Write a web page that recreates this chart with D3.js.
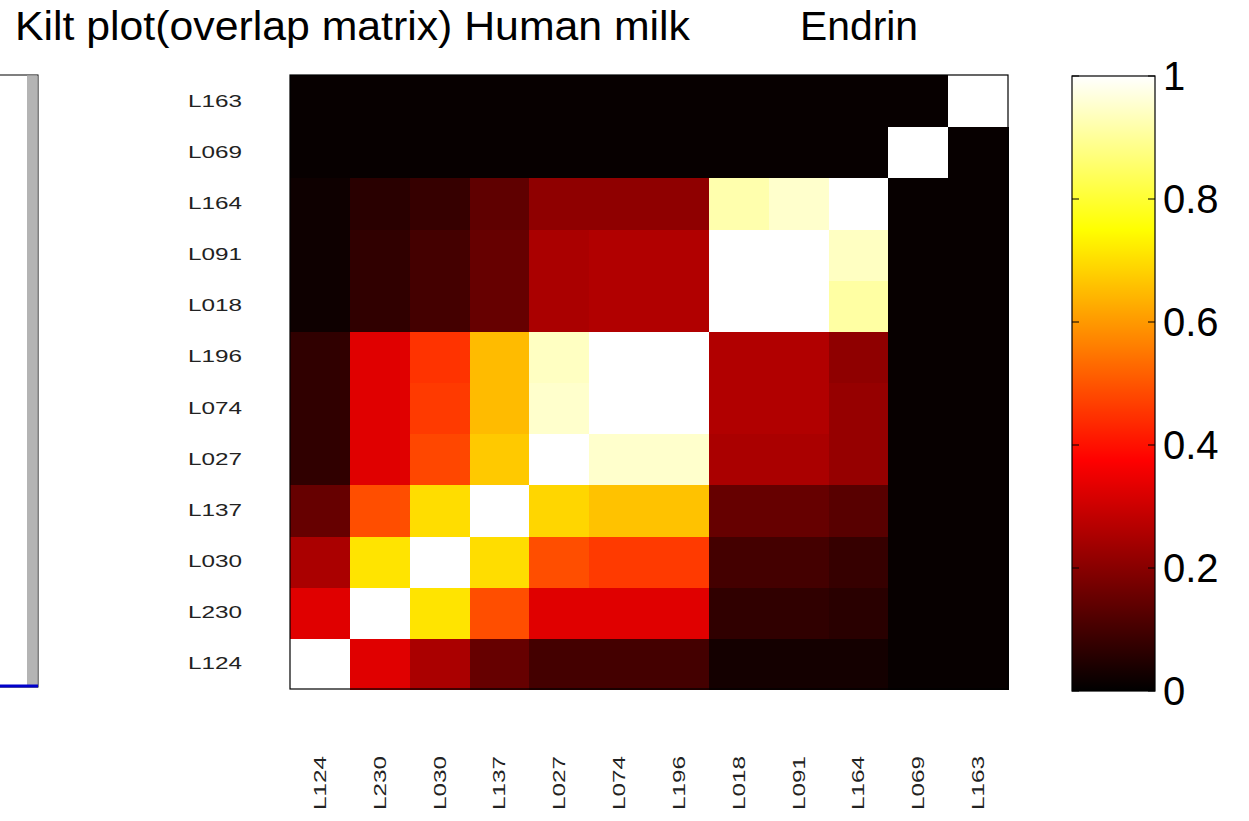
<!DOCTYPE html>
<html lang="en">
<head>
  <meta charset="UTF-8">
  <title>Kilt plot</title>
  <style>
    html, body { margin: 0; background: #fff; }
    svg { display: block; font-family: "Liberation Sans", Arial, sans-serif; }
  </style>
</head>
<body>
  <div id="main"></div>
  <script src="https://cdn.jsdelivr.net/npm/d3@7"></script>
  <script>
    // labels, bottom-to-top for rows, left-to-right for columns
    const labels = ['L124', 'L230', 'L030', 'L137', 'L027', 'L074', 'L196', 'L018', 'L091', 'L164', 'L069', 'L163']
    // overlap values, one row per label (row 0 = L124 at bottom)
    const rowL124 = [1.00, 0.33, 0.25, 0.15, 0.10, 0.10, 0.10, 0.03, 0.03, 0.03, 0.01, 0.01]
    const rowL230 = [0.33, 1.00, 0.71, 0.49, 0.33, 0.33, 0.33, 0.07, 0.07, 0.06, 0.01, 0.01]
    const rowL030 = [0.25, 0.71, 1.00, 0.70, 0.49, 0.46, 0.46, 0.10, 0.10, 0.08, 0.01, 0.01]
    const rowL137 = [0.15, 0.49, 0.70, 1.00, 0.69, 0.66, 0.66, 0.15, 0.15, 0.13, 0.01, 0.01]
    const rowL027 = [0.07, 0.33, 0.48, 0.67, 1.00, 0.95, 0.95, 0.25, 0.25, 0.22, 0.01, 0.01]
    const rowL074 = [0.07, 0.33, 0.46, 0.65, 0.95, 1.00, 1.00, 0.26, 0.26, 0.22, 0.01, 0.01]
    const rowL196 = [0.07, 0.33, 0.45, 0.65, 0.94, 1.00, 1.00, 0.26, 0.26, 0.21, 0.01, 0.01]
    const rowL018 = [0.02, 0.07, 0.10, 0.15, 0.25, 0.26, 0.26, 1.00, 1.00, 0.91, 0.01, 0.01]
    const rowL091 = [0.02, 0.07, 0.10, 0.15, 0.25, 0.26, 0.26, 1.00, 1.00, 0.94, 0.01, 0.01]
    const rowL164 = [0.02, 0.06, 0.08, 0.14, 0.21, 0.21, 0.21, 0.92, 0.95, 1.00, 0.01, 0.01]
    const rowL069 = [0.01, 0.01, 0.01, 0.01, 0.01, 0.01, 0.01, 0.01, 0.01, 0.01, 1.00, 0.01]
    const rowL163 = [0.01, 0.01, 0.01, 0.01, 0.01, 0.01, 0.01, 0.01, 0.01, 0.01, 0.01, 1.00]
    const matrix = [rowL124, rowL230, rowL030, rowL137, rowL027, rowL074, rowL196, rowL018, rowL091, rowL164, rowL069, rowL163]
    const cbTicks = [0, 0.2, 0.4, 0.6, 0.8, 1]

    // matlab "hot" colormap
    function hot (v) {
      const r = Math.min(1, Math.max(0, v / 0.375))
      const g = Math.min(1, Math.max(0, (v - 0.375) / 0.375))
      const b = Math.min(1, Math.max(0, (v - 0.75) / 0.25))
      return d3.rgb(r * 255, g * 255, b * 255).toString()
    }

    const W = 1249, H = 821
    const svg = d3.select('#main').append('svg').attr('width', W).attr('height', H)

    // title
    svg.append('text').attr('x', 15).attr('y', 40)
      .attr('font-size', 40).attr('textLength', 675).attr('lengthAdjust', 'spacingAndGlyphs')
      .text('Kilt plot(overlap matrix) Human milk')
    svg.append('text').attr('x', 800).attr('y', 40)
      .attr('font-size', 40).attr('textLength', 118).attr('lengthAdjust', 'spacingAndGlyphs')
      .text('Endrin')

    // partial neighbour panel on the left edge
    const left = svg.append('g')
    left.append('rect').attr('x', -10).attr('y', 75).attr('width', 48).attr('height', 612)
      .attr('fill', '#fff').attr('stroke', '#000').attr('stroke-width', 1)
    left.append('rect').attr('x', 27).attr('y', 75.5).attr('width', 10.5).attr('height', 611)
      .attr('fill', '#b4b4b4')
    left.append('line').attr('x1', 0).attr('x2', 38).attr('y1', 686).attr('y2', 686)
      .attr('stroke', '#0000cc').attr('stroke-width', 3)

    // heatmap
    const x = d3.scaleBand().domain(labels).range([290, 1008])
    const y = d3.scaleBand().domain(labels).range([689, 75])

    const cells = []
    matrix.forEach((row, i) => row.forEach((v, j) => cells.push({ r: labels[i], c: labels[j], v })))

    svg.append('g').attr('shape-rendering', 'crispEdges')
      .selectAll('rect').data(cells).join('rect')
      .attr('x', d => x(d.c))
      .attr('y', d => y(d.r))
      .attr('width', x.bandwidth() + 1)
      .attr('height', y.bandwidth() + 1)
      .attr('fill', d => hot(d.v))

    svg.append('rect').attr('x', 290).attr('y', 75).attr('width', 718).attr('height', 614)
      .attr('fill', 'none').attr('stroke', '#000').attr('stroke-width', 1.2)

    // y labels
    svg.append('g').selectAll('text').data(labels).join('text')
      .attr('x', 242)
      .attr('y', d => y(d) + y.bandwidth() / 2 + 6)
      .attr('text-anchor', 'end')
      .attr('font-size', 17).attr('textLength', 54).attr('lengthAdjust', 'spacingAndGlyphs')
      .attr('fill', '#222')
      .text(d => d)

    // x labels (rotated)
    svg.append('g').selectAll('text').data(labels).join('text')
      .attr('transform', d => `translate(${x(d) + x.bandwidth() / 2 + 6},810) rotate(-90)`)
      .attr('text-anchor', 'start')
      .attr('font-size', 17).attr('textLength', 54).attr('lengthAdjust', 'spacingAndGlyphs')
      .attr('fill', '#222')
      .text(d => d)

    // colorbar
    const cbX = 1072, cbW = 83
    const cy = d3.scaleLinear().domain([0, 1]).range([691, 76])
    const grad = svg.append('defs').append('linearGradient').attr('id', 'hotgrad')
      .attr('x1', 0).attr('y1', 1).attr('x2', 0).attr('y2', 0)
    grad.selectAll('stop').data(d3.range(0, 1.0001, 1 / 64)).join('stop')
      .attr('offset', d => d)
      .attr('stop-color', d => hot(d))
    svg.append('rect').attr('x', cbX).attr('y', cy(1)).attr('width', cbW).attr('height', cy(0) - cy(1))
      .attr('fill', 'url(#hotgrad)').attr('stroke', '#000').attr('stroke-width', 1.2)

    const ticks = svg.append('g').selectAll('g').data(cbTicks).join('g')
    ticks.append('line').attr('x1', cbX).attr('x2', cbX + 7)
      .attr('y1', d => cy(d)).attr('y2', d => cy(d)).attr('stroke', '#000')
    ticks.append('line').attr('x1', cbX + cbW - 7).attr('x2', cbX + cbW)
      .attr('y1', d => cy(d)).attr('y2', d => cy(d)).attr('stroke', '#000')
    ticks.append('text')
      .attr('x', 1163)
      .attr('y', d => cy(d) + 14)
      .attr('font-size', 40)
      .text(d => d3.format('~g')(d))
  </script>
</body>
</html>
